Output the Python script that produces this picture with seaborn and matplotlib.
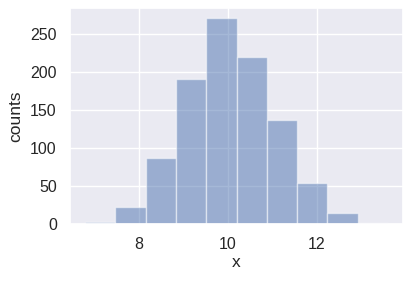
import matplotlib
matplotlib.use("Agg")
import matplotlib.pyplot as plt
import seaborn as sns
import numpy as np

bin_edges = [6.80, 7.48, 8.16, 8.84, 9.52, 10.20, 10.88, 11.56, 12.24, 12.92, 13.60]
counts = [3, 22, 87, 190, 270, 219, 136, 54, 15, 1]

sns.set_theme(style="darkgrid")
plt.rcParams['font.family'] = ['Liberation Sans', 'DejaVu Sans']

centers = [(a + b) / 2 for a, b in zip(bin_edges[:-1], bin_edges[1:])]

fig = plt.figure(figsize=(4.11, 2.81), dpi=100)
ax = fig.add_axes([70 / 411, 1 - 224 / 281, 333 / 411, 216 / 281])
sns.histplot(x=centers, weights=counts, bins=bin_edges, ax=ax,
             alpha=0.5, edgecolor=(1, 1, 1, 0.5), linewidth=1.0,
             color=sns.color_palette()[0])
ax.set_xlabel("x", fontsize=12.5, labelpad=2)
ax.set_ylabel("counts", fontsize=12.5, labelpad=5)
ax.set_yticks([0, 50, 100, 150, 200, 250])
ax.set_xticks([8, 10, 12])
ax.tick_params(labelsize=11.5)
fig.savefig("out.png", dpi=100)
